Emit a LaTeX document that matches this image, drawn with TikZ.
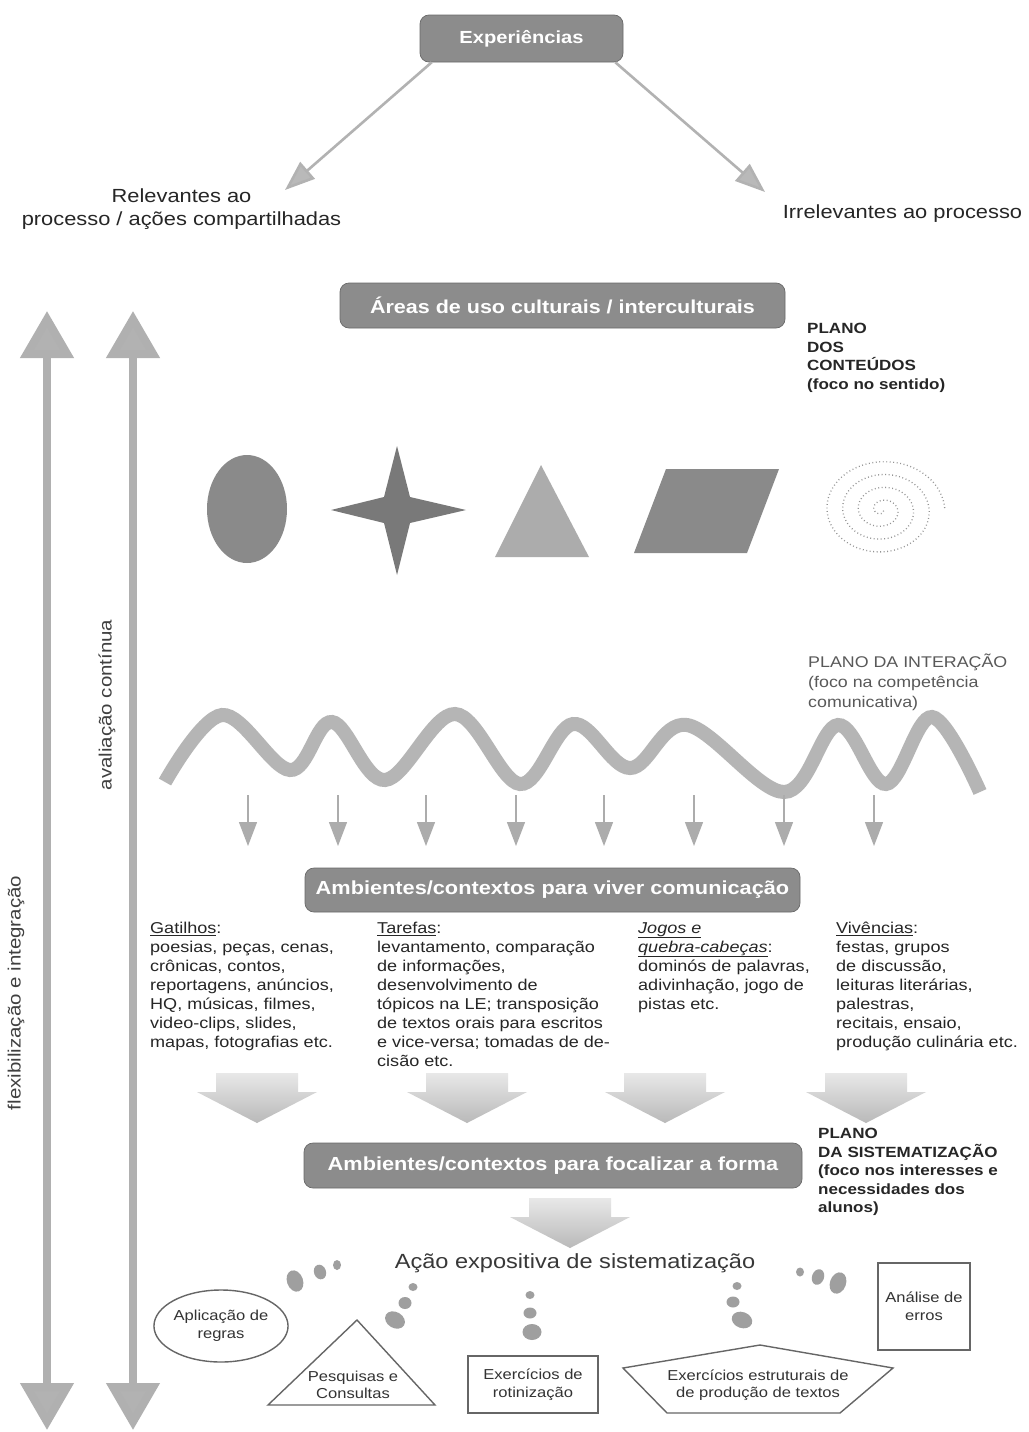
\documentclass[tikz,border=0pt]{standalone}
\usepackage{fontspec}
\setmainfont{Liberation Sans}[FakeStretch=1.15]
\usetikzlibrary{arrows.meta,shapes.geometric,calc}
\definecolor{boxgray}{HTML}{8C8C8C}
\definecolor{txt}{HTML}{262626}
\begin{document}
\begin{tikzpicture}[x=1pt,y=-1pt,
  every node/.style={inner sep=0pt, text=txt},
  titlebox/.style={rounded corners=9pt, fill=boxgray, draw=boxgray!75!black, line width=0.7pt,
    text=white, font=\bfseries\fontsize{18.7}{22}\selectfont},
  bigtext/.style={font=\fontsize{19}{23}\selectfont, align=center},
  coltext/.style={font=\fontsize{15.7}{19}\selectfont, align=left, anchor=north west},
  planob/.style={font=\bfseries\fontsize{14.8}{18.6}\selectfont, align=left, anchor=north west},
  planor/.style={font=\fontsize{15.5}{20}\selectfont, align=left, anchor=north west, text=black!65},
  rottext/.style={font=\fontsize{17.8}{21}\selectfont, rotate=90, text=black!75},
  labtext/.style={font=\fontsize{14.4}{17.5}\selectfont, align=center, text=black!80},
  thinarrow/.style={draw=gray!60, line width=2.6pt, -{Triangle[length=30pt,width=22pt,fill=gray!55]}},
  vertarrow/.style={draw=gray!62, line width=8pt,
    {Triangle[length=47pt,width=52pt,fill=gray!60]}-{Triangle[length=47pt,width=52pt,fill=gray!60]}},
  smallarrow/.style={draw=gray!65, line width=1.3pt, -{Triangle[length=24pt,width=18pt,fill=gray!65]}},
  shapeline/.style={draw=black!60, line width=1.4pt},
  dotgray/.style={fill=gray!75},
  bigdown/.pic={\shade[top color=gray!18, bottom color=gray!55]
     (-41,0) -- (41,0) -- (41,19) -- (60,19) -- (0,50) -- (-60,19) -- (-41,19) -- cycle;}
]
\fill[white] (0,0) rectangle (1028,1432);
\useasboundingbox (0,0) rectangle (1028,1432);

% top
\node[titlebox, minimum width=203pt, minimum height=47pt, font=\bfseries\fontsize{17.5}{21}\selectfont] (exp) at (521.5,38.5) {Experiências};
\node[bigtext] (rel) at (181.5,209) {Relevantes ao\\processo / ações compartilhadas};
\node[bigtext] (irr) at (902.5,214) {Irrelevantes ao processo};
\coordinate (relTip) at (285,190);
\coordinate (irrTip) at (765,192);
\draw[thinarrow] ($(exp.south west)+(12,0)$) -- (relTip);
\draw[thinarrow] ($(exp.south east)+(-8,0)$) -- (irrTip);

% vertical arrows
\coordinate (v1t) at (47,311); \coordinate (v1b) at (47,1430);
\coordinate (v2t) at (133,311); \coordinate (v2b) at (133,1430);
\draw[vertarrow] (v1b) -- (v1t);
\draw[vertarrow] (v2b) -- (v2t);
\node[rottext] (flex) at (16,993) {flexibilização e integração};
\node[rottext] (aval) at (107,705) {avaliação contínua};

% contents plane
\node[titlebox, minimum width=445pt, minimum height=45pt] (areas) at (562.5,305.5) {Áreas de uso culturais / interculturais};
\node[planob] (pcont) at (807,323) {PLANO\\DOS\\CONTEÚDOS\\(foco no sentido)};

\fill[fill=gray!92] (247,509) ellipse [x radius=40, y radius=54];
\fill[fill=gray!95!black] (397,446) -- (410,497) -- (466,510) -- (410,523) -- (397,575) -- (384,523) -- (331,510) -- (384,497) -- cycle;
\fill[fill=gray!65] (541,465) -- (589,557) -- (495,557) -- cycle;
\fill[fill=gray!92] (666,469) -- (779,469) -- (747,553) -- (634,553) -- cycle;
\draw[gray!85, line width=1.3pt, dash pattern=on 0.9pt off 2.6pt]
  plot[domain=0.6:25.1, samples=400, smooth] ({882+2.5*\x*cos(\x r)}, {510+2.05*\x*sin(\x r)});

% interaction plane
\node[planor] (pint) at (808,654) {PLANO DA INTERAÇÃO\\(foco na competência\\comunicativa)};
\draw[gray!58, line width=14pt] plot[smooth, tension=0.6] coordinates {(165,782) (222,715) (290,770) (332,722) (385,780) (455,714) (520,784) (573,724) (630,768) (687,725) (784,792) (838,725) (886,784) (932,717) (980,792)};
\foreach \xx [count=\i] in {248,338,426,516,604,694,784,874} {
  \coordinate (sa\i) at (\xx,795);
  \coordinate (sb\i) at (\xx,846);
  \draw[smallarrow] (sa\i) -- (sb\i);
}

\node[titlebox, minimum width=495pt, minimum height=44pt, font=\bfseries\fontsize{18.9}{22}\selectfont] (viver) at (552.5,890) {Ambientes/contextos para viver comunicação};

\node[coltext] (gat) at (150,922) {\underline{Gatilhos}:\\poesias, peças, cenas,\\crônicas, contos,\\reportagens, anúncios,\\HQ, músicas, filmes,\\video-clips, slides,\\mapas, fotografias etc.};
\node[coltext] (tar) at (377,922) {\underline{Tarefas}:\\levantamento, comparação\\de informações,\\desenvolvimento de\\tópicos na LE; transposição\\de textos orais para escritos\\e vice-versa; tomadas de de-\\cisão etc.};
\node[coltext] (jog) at (638,922) {\underline{\textit{Jogos e}}\\\underline{\textit{quebra-cabeças}}:\\dominós de palavras,\\adivinhação, jogo de\\pistas etc.};
\node[coltext] (viv) at (836,922) {\underline{Vivências}:\\festas, grupos\\de discussão,\\leituras literárias,\\palestras,\\recitais, ensaio,\\produção culinária etc.};

\pic at (257,1073) {bigdown};
\pic at (467,1073) {bigdown};
\pic at (665,1073) {bigdown};
\pic at (866,1073) {bigdown};

% systematization plane
\node[titlebox, minimum width=498pt, minimum height=45pt, font=\bfseries\fontsize{18.9}{22}\selectfont] (focal) at (553,1165.5) {Ambientes/contextos para focalizar a forma};
\node[planob] (psis) at (818,1128) {PLANO\\DA SISTEMATIZAÇÃO\\(foco nos interesses e\\necessidades dos\\alunos)};
\pic at (570,1198) {bigdown};

\node[font=\fontsize{20.5}{24}\selectfont, text=black!78] (acao) at (575,1263) {Ação expositiva de sistematização};

% dots
\fill[dotgray, rotate around={20:(295,1281)}] (295,1281) ellipse [x radius=8, y radius=11];
\fill[dotgray, rotate around={20:(320,1272)}] (320,1272) ellipse [x radius=6, y radius=7.5];
\fill[dotgray] (337,1265) ellipse [x radius=4, y radius=5];
\fill[dotgray] (413,1287) ellipse [x radius=4.5, y radius=4];
\fill[dotgray] (405,1303) ellipse [x radius=6.5, y radius=6];
\fill[dotgray, rotate around={-30:(395,1320)}] (395,1320) ellipse [x radius=10.5, y radius=8];
\fill[dotgray] (530,1295) ellipse [x radius=4.5, y radius=4];
\fill[dotgray] (530,1313) ellipse [x radius=6.5, y radius=5.5];
\fill[dotgray] (532,1332) ellipse [x radius=9.5, y radius=8];
\fill[dotgray] (737,1286) ellipse [x radius=4.5, y radius=4];
\fill[dotgray] (733,1302) ellipse [x radius=6.5, y radius=5.5];
\fill[dotgray, rotate around={-20:(742,1320)}] (742,1320) ellipse [x radius=10.5, y radius=8];
\fill[dotgray] (800,1272) ellipse [x radius=4, y radius=4.5];
\fill[dotgray, rotate around={-20:(818,1277)}] (818,1277) ellipse [x radius=6, y radius=8];
\fill[dotgray, rotate around={-20:(838,1283)}] (838,1283) ellipse [x radius=8, y radius=11];

% bottom shapes
\node[labtext, ellipse, shapeline, minimum width=134pt, minimum height=72pt] (apl) at (221,1326) {Aplicação de\\regras};
\draw[shapeline] (357,1320) -- (435,1405) -- (268,1405) -- cycle;
\node[labtext] (pesq) at (353,1385) {Pesquisas e\\Consultas};
\node[labtext, shapeline, minimum width=130pt, minimum height=57pt] (rot) at (533,1384.5) {Exercícios de\\rotinização};
\draw[shapeline] (623,1368) -- (760,1345) -- (893,1368) -- (840,1413) -- (667,1413) -- cycle;
\node[labtext] (estr) at (758,1385) {Exercícios estruturais de\\de produção de textos};
\node[labtext, shapeline, minimum width=92pt, minimum height=87pt] (anal) at (924,1306.5) {Análise de\\erros};
\end{tikzpicture}
\end{document}
